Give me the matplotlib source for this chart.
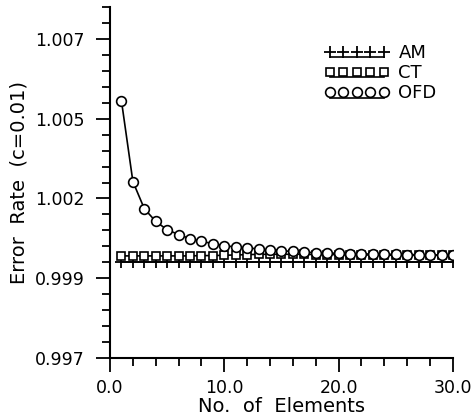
import matplotlib
matplotlib.use('Agg')
import matplotlib.pyplot as plt
from matplotlib.lines import Line2D
from matplotlib.legend_handler import HandlerLine2DCompound
from matplotlib.ticker import FixedLocator, MultipleLocator, FixedFormatter

plt.rcParams['font.family'] = 'DejaVu Sans'

# data
elements = list(range(1, 31))
am = [1.00000] * 30
ct = [1.00020, 1.00020, 1.00020, 1.00020, 1.00020, 1.00020, 1.00020, 1.00021, 1.00021, 1.00022,
      1.00023, 1.00024, 1.00025, 1.00025, 1.00025, 1.00025, 1.00025, 1.00024, 1.00024, 1.00024,
      1.00023, 1.00023, 1.00023, 1.00022, 1.00022, 1.00022, 1.00022, 1.00022, 1.00022, 1.00022]
ofd = [1.00506, 1.00253, 1.00168, 1.00128, 1.00102, 1.00087, 1.00074, 1.00066, 1.00058, 1.00052,
       1.00048, 1.00045, 1.00042, 1.00038, 1.00036, 1.00034, 1.00032, 1.00030, 1.00029, 1.00028,
       1.00027, 1.00026, 1.00026, 1.00025, 1.00025, 1.00024, 1.00024, 1.00023, 1.00023, 1.00023]

ytick_vals = [0.997, 0.9995, 1.002, 1.0045, 1.007]
ytick_labels = ['0.997', '0.999', '1.002', '1.005', '1.007']
xtick_vals = [0, 10, 20, 30]
xtick_labels = ['0.0', '10.0', '20.0', '30.0']


class ShiftedLine(HandlerLine2DCompound):
    # line drawn a bit below the marker row, like the old plotter legend
    def create_artists(self, legend, orig_handle, xdescent, ydescent,
                       width, height, fontsize, trans):
        arts = super().create_artists(legend, orig_handle, xdescent, ydescent,
                                      width, height, fontsize, trans)
        line = arts[0]
        line.set_ydata([y - 0.32 * fontsize for y in line.get_ydata()])
        return arts


fig = plt.figure(figsize=(4.73, 4.20), dpi=100)
ax = fig.add_axes([0.2326, 0.1476, 0.725, 0.8357])

lw = 1.2
ax.plot(elements, am, color='black', lw=lw, marker='+', ms=8, mew=1.3, label='AM')
ax.plot(elements, ct, color='black', lw=lw, marker='s', ms=6, mfc='white', mew=1.2, label='CT')
ax.plot(elements, ofd, color='black', lw=lw, marker='o', ms=7, mfc='white', mew=1.2, label='OFD')

ax.set_xlim(0, 30)
ax.set_ylim(0.997, 1.008)

ax.yaxis.set_major_locator(FixedLocator(ytick_vals))
ax.yaxis.set_major_formatter(FixedFormatter(ytick_labels))
ax.yaxis.set_minor_locator(MultipleLocator(0.0005))
ax.xaxis.set_major_locator(FixedLocator(xtick_vals))
ax.xaxis.set_major_formatter(FixedFormatter(xtick_labels))
ax.xaxis.set_minor_locator(MultipleLocator(2))

ax.spines['top'].set_visible(False)
ax.spines['right'].set_visible(False)
ax.spines['left'].set_linewidth(1.5)
ax.spines['bottom'].set_linewidth(1.5)

ax.tick_params(axis='both', which='major', direction='out', length=10, width=1.3,
               labelsize=12.5)
ax.tick_params(axis='both', which='minor', direction='out', length=6, width=1.3)
ax.tick_params(axis='y', which='major', pad=8)
ax.tick_params(axis='x', which='major', pad=5)

ax.set_xlabel('No.  of  Elements', fontsize=14, labelpad=0)
ax.set_ylabel('Error  Rate  (c=0.01)', fontsize=14, labelpad=5)

ax.legend(loc='upper left', bbox_to_anchor=(0.625, 0.895), frameon=False,
          numpoints=5, handlelength=3.6, handletextpad=0.5, labelspacing=0.12,
          borderpad=0, borderaxespad=0, fontsize=13,
          handler_map={Line2D: ShiftedLine()})

fig.savefig('out.png', dpi=100)
